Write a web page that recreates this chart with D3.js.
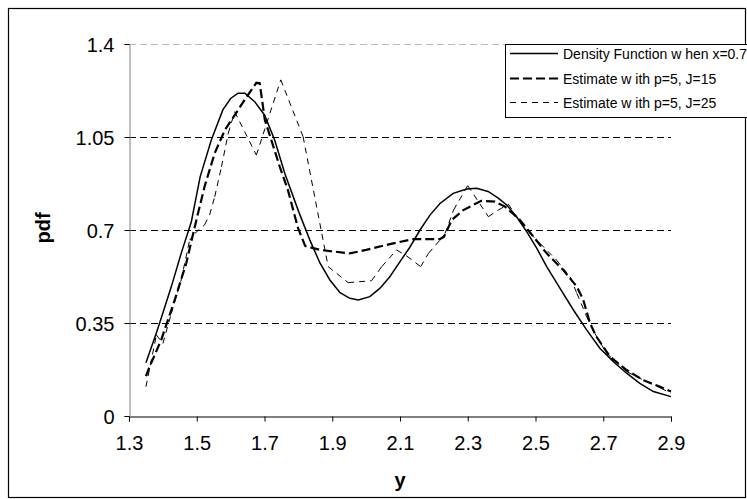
<!DOCTYPE html>
<html>
<head>
<meta charset="utf-8">
<script src="https://cdn.jsdelivr.net/npm/d3@7/dist/d3.min.js"></script>
<style>
  body { margin: 0; background: #fff; }
  text { font-family: 'Liberation Sans', Arial, sans-serif; }
</style>
</head>
<body>
<div id="chart"></div>
<script>
// tick values
const xTicks = [1.3, 1.5, 1.7, 1.9, 2.1, 2.3, 2.5, 2.7, 2.9];
const yTicks = [0, 0.35, 0.7, 1.05, 1.4];

const legendLabels = [
    'Density Function w hen x=0.7',
    'Estimate w ith p=5, J=15',
    'Estimate w ith p=5, J=25'
];

// series: [y, pdf]
const density = [
    [1.35, 0.20], [1.38, 0.31], [1.395, 0.368], [1.425, 0.487], [1.454, 0.612],
    [1.484, 0.731], [1.51, 0.90], [1.543, 1.039], [1.577, 1.152], [1.60, 1.195],
    [1.622, 1.215], [1.642, 1.215], [1.671, 1.183], [1.70, 1.133], [1.73, 1.039],
    [1.76, 0.913], [1.80, 0.772], [1.834, 0.662], [1.864, 0.575], [1.893, 0.512],
    [1.923, 0.464], [1.952, 0.443], [1.977, 0.437], [2.011, 0.449], [2.041, 0.481],
    [2.07, 0.524], [2.10, 0.581], [2.13, 0.637], [2.159, 0.70], [2.189, 0.757],
    [2.218, 0.80], [2.257, 0.838], [2.297, 0.854], [2.326, 0.857], [2.36, 0.845],
    [2.39, 0.82], [2.415, 0.794], [2.444, 0.75], [2.474, 0.694], [2.504, 0.631],
    [2.533, 0.562], [2.572, 0.481], [2.612, 0.399], [2.651, 0.324], [2.69, 0.255],
    [2.73, 0.204], [2.769, 0.161], [2.808, 0.123], [2.848, 0.092], [2.90, 0.073]
];

const estJ15 = [
    [1.35, 0.15], [1.361, 0.186], [1.395, 0.286], [1.435, 0.437], [1.469, 0.575],
    [1.499, 0.738], [1.523, 0.863], [1.553, 0.989], [1.583, 1.076], [1.622, 1.152],
    [1.651, 1.208], [1.676, 1.254], [1.686, 1.252], [1.701, 1.114], [1.72, 1.039],
    [1.745, 0.938], [1.769, 0.851], [1.799, 0.707], [1.82, 0.64], [1.864, 0.625],
    [1.952, 0.612], [2.0, 0.625], [2.07, 0.647], [2.139, 0.666], [2.218, 0.666],
    [2.23, 0.675], [2.253, 0.738], [2.287, 0.775], [2.34, 0.81], [2.38, 0.807],
    [2.41, 0.788], [2.454, 0.738], [2.494, 0.675], [2.533, 0.612], [2.582, 0.549],
    [2.622, 0.487], [2.641, 0.437], [2.661, 0.349], [2.68, 0.298], [2.72, 0.223],
    [2.769, 0.173], [2.818, 0.135], [2.868, 0.110], [2.90, 0.092]
];

const estJ25 = [
    [1.35, 0.11], [1.381, 0.305], [1.40, 0.273], [1.425, 0.386], [1.454, 0.512],
    [1.479, 0.662], [1.494, 0.687], [1.523, 0.719], [1.538, 0.757], [1.553, 0.825],
    [1.573, 0.938], [1.593, 1.064], [1.612, 1.145], [1.676, 0.982], [1.748, 1.265],
    [1.814, 1.051], [1.888, 0.562], [1.947, 0.502], [2.016, 0.509], [2.046, 0.562],
    [2.09, 0.625], [2.12, 0.602], [2.161, 0.562], [2.184, 0.612], [2.218, 0.662],
    [2.233, 0.687], [2.258, 0.775], [2.30, 0.867], [2.361, 0.75], [2.39, 0.775],
    [2.42, 0.797], [2.454, 0.731], [2.484, 0.687], [2.513, 0.65], [2.562, 0.587],
    [2.602, 0.524], [2.622, 0.462], [2.651, 0.374], [2.675, 0.311], [2.71, 0.236],
    [2.769, 0.167], [2.828, 0.129], [2.87, 0.105], [2.90, 0.085]
];

const width = 747;
const height = 499;
const margin = {top: 44, right: 76, bottom: 83, left: 129};

const svg = d3.select('#chart').append('svg')
    .attr('width', width)
    .attr('height', height);

// outer chart border
svg.append('rect')
    .attr('x', 8.5).attr('y', 8.5)
    .attr('width', 737).attr('height', 489)
    .attr('fill', 'none')
    .attr('stroke', '#000')
    .attr('stroke-width', 1.2);

const x = d3.scaleLinear().domain([1.3, 2.9]).range([margin.left, width - margin.right]);
const y = d3.scaleLinear().domain([0, 1.4]).range([height - margin.bottom, margin.top]);

// horizontal gridlines
svg.append('g')
    .selectAll('line')
    .data(yTicks.filter((d) => d > 0))
    .enter().append('line')
    .attr('x1', x(1.3)).attr('x2', x(2.9))
    .attr('y1', (d) => Math.round(y(d)) + 0.5)
    .attr('y2', (d) => Math.round(y(d)) + 0.5)
    .attr('stroke', (d) => d === 1.4 ? '#bbb' : '#000')
    .attr('stroke-dasharray', '7,4');

// axes
const xAxis = svg.append('g')
    .attr('transform', `translate(0,${Math.round(y(0)) + 0.5})`)
    .call(d3.axisBottom(x).tickValues(xTicks).tickSize(5).tickPadding(14).tickFormat(d3.format('.1f')));

const yAxis = svg.append('g')
    .attr('transform', `translate(${Math.round(x(1.3)) + 0.5},0)`)
    .call(d3.axisLeft(y).tickValues(yTicks).tickSize(5).tickPadding(10).tickFormat((d) => String(d)));

[xAxis, yAxis].forEach((g) => {
    g.select('.domain').attr('stroke', '#000');
    g.selectAll('.tick line').attr('stroke', '#000');
    g.selectAll('.tick text')
        .attr('fill', '#000')
        .style('font-size', '20px')
        .style('font-family', "'Liberation Sans', Arial, sans-serif");
});
yAxis.select('.domain').attr('stroke', '#808080');
yAxis.selectAll('.tick text').attr('dy', '0.36em');

// axis titles
svg.append('text')
    .attr('transform', 'translate(50,228) rotate(-90)')
    .attr('text-anchor', 'middle')
    .style('font-size', '20px')
    .style('font-weight', 'bold')
    .text('pdf');

svg.append('text')
    .attr('x', x(2.1))
    .attr('y', 487)
    .attr('text-anchor', 'middle')
    .style('font-size', '20px')
    .style('font-weight', 'bold')
    .text('y');

const line = d3.line()
    .x((d) => x(d[0]))
    .y((d) => y(d[1]));

const plot = svg.append('g');

plot.append('path')
    .datum(density)
    .attr('d', line)
    .attr('fill', 'none')
    .attr('stroke', '#000')
    .attr('stroke-width', 1.5);

plot.append('path')
    .datum(estJ15)
    .attr('d', line)
    .attr('fill', 'none')
    .attr('stroke', '#000')
    .attr('stroke-width', 2.2)
    .attr('stroke-dasharray', '9,4');

// thin dashed series: dash pattern restarts on each segment, like the original
plot.append('g')
    .selectAll('path')
    .data(d3.pairs(estJ25))
    .enter().append('path')
    .attr('d', line)
    .attr('fill', 'none')
    .attr('stroke', '#000')
    .attr('stroke-width', 1)
    .attr('stroke-dasharray', '6,5');

// legend
const legend = svg.append('g');
legend.append('rect')
    .attr('x', 505.5).attr('y', 44.5)
    .attr('width', 250).attr('height', 73)
    .attr('fill', '#fff')
    .attr('stroke', '#000');

const legendStyles = [
    {w: 1.5, dash: null},
    {w: 2.2, dash: '9,4'},
    {w: 1, dash: '6,5'}
];

const rowY = [53.5, 78.5, 102.5];

legendLabels.forEach((label, i) => {
    legend.append('line')
        .attr('x1', 510).attr('x2', 558)
        .attr('y1', rowY[i]).attr('y2', rowY[i])
        .attr('stroke', '#000')
        .attr('stroke-width', legendStyles[i].w)
        .attr('stroke-dasharray', legendStyles[i].dash);
    legend.append('text')
        .attr('x', 563)
        .attr('y', rowY[i] + 5)
        .style('font-size', '14px')
        .text(label);
});
</script>
</body>
</html>
